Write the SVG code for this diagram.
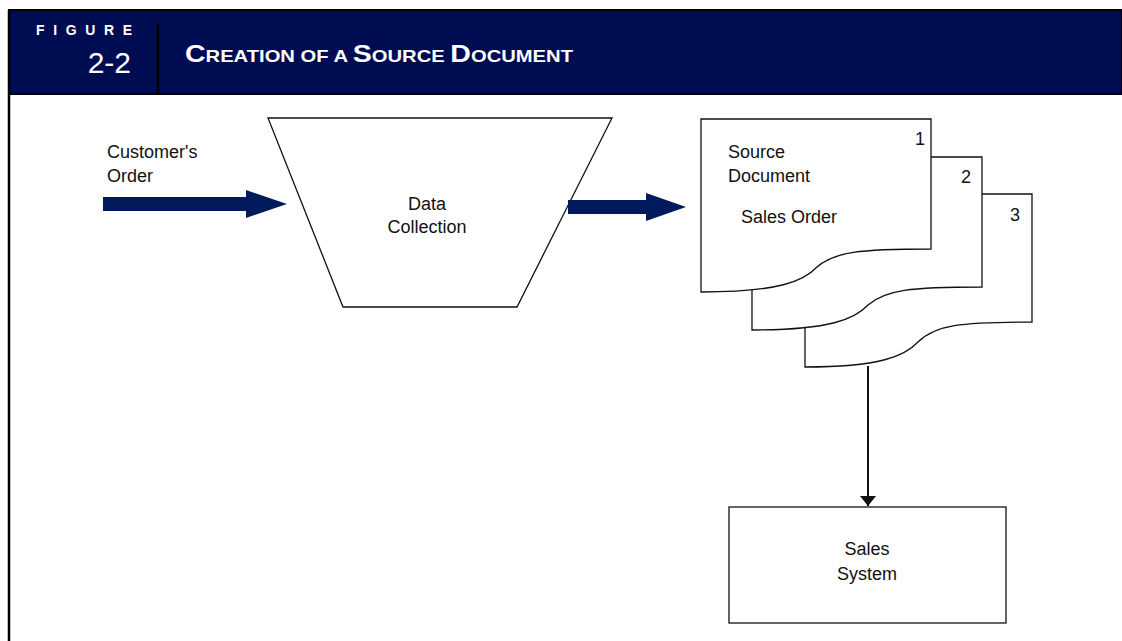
<svg xmlns="http://www.w3.org/2000/svg" width="1122" height="641" viewBox="0 0 1122 641">
<style>
.lbl{font-family:"Liberation Sans",Arial,sans-serif;font-size:18px;fill:#111}
.shape{fill:#fff;stroke:#111;stroke-width:1.3}
.hdr{font-family:"Liberation Sans",Arial,sans-serif;fill:#fff;font-weight:bold}
</style>
<defs>
<marker id="ah" viewBox="0 0 10 16" refX="10" refY="8" markerWidth="10" markerHeight="16" markerUnits="userSpaceOnUse" orient="auto">
<path d="M0,0 L10,8 L0,16 Z" fill="#111"/>
</marker>
</defs>
<rect width="1122" height="641" fill="#fff"/>
<g id="header">
<rect x="9" y="10" width="1113" height="84" fill="#000c52" stroke="#000" stroke-width="2"/>
<line x1="158" y1="24" x2="158" y2="94" stroke="#000" stroke-width="2.6"/>
<line x1="9" y1="10" x2="9" y2="641" stroke="#000" stroke-width="2.5"/>
<text class="hdr" x="36" y="35" font-size="14" textLength="96" lengthAdjust="spacing">FIGURE</text>
<text x="131" y="73" font-family="'Liberation Sans',Arial,sans-serif" font-size="30" fill="#fff" text-anchor="end">2-2</text>
<text class="hdr" x="185" y="62" textLength="388" lengthAdjust="spacingAndGlyphs"><tspan font-size="24">C</tspan><tspan font-size="17">REATION OF A </tspan><tspan font-size="24">S</tspan><tspan font-size="17">OURCE </tspan><tspan font-size="24">D</tspan><tspan font-size="17">OCUMENT</tspan></text>
</g>
<g id="customer-order">
<text class="lbl" x="107" y="158">Customer's</text>
<text class="lbl" x="107" y="182">Order</text>
</g>
<g id="data-collection">
<path class="shape" d="M268,118 L612,118 L517,307 L343,307 Z"/>
<text class="lbl" x="427" y="210" text-anchor="middle">Data</text>
<text class="lbl" x="427" y="233" text-anchor="middle">Collection</text>
</g>
<g id="source-documents">
<path class="shape" d="M805,194 L1032,194 L1032,322 C960,322 935,325 918,342 C905,356 880,367 805,367 Z"/>
<path class="shape" d="M752,157 L982,157 L982,287 C910,287 885,290 868,305 C855,319 830,330 752,330 Z"/>
<path class="shape" d="M701,119 L931,119 L931,249 C859,249 834,252 817,267 C804,281 779,292 701,292 Z"/>
<text class="lbl" x="920" y="145" text-anchor="middle">1</text>
<text class="lbl" x="966" y="183" text-anchor="middle">2</text>
<text class="lbl" x="1015" y="221" text-anchor="middle">3</text>
<text class="lbl" x="728" y="158">Source</text>
<text class="lbl" x="728" y="182">Document</text>
<text class="lbl" x="741" y="223">Sales Order</text>
</g>
<g id="sales-system">
<rect class="shape" x="729" y="507" width="277" height="116"/>
<text class="lbl" x="867" y="555" text-anchor="middle">Sales</text>
<text class="lbl" x="867" y="580" text-anchor="middle">System</text>
</g>
<g id="connectors">
<path d="M103,204 L248,204" stroke="#001a5c" stroke-width="14" fill="none"/>
<path d="M246,190 L287,204 L246,218 Z" fill="#001a5c"/>
<path d="M568,207 L648,207" stroke="#001a5c" stroke-width="14" fill="none"/>
<path d="M646,193 L686,207 L646,221 Z" fill="#001a5c"/>
<line x1="868" y1="366" x2="868" y2="506" stroke="#111" stroke-width="2" marker-end="url(#ah)"/>
</g>
</svg>
